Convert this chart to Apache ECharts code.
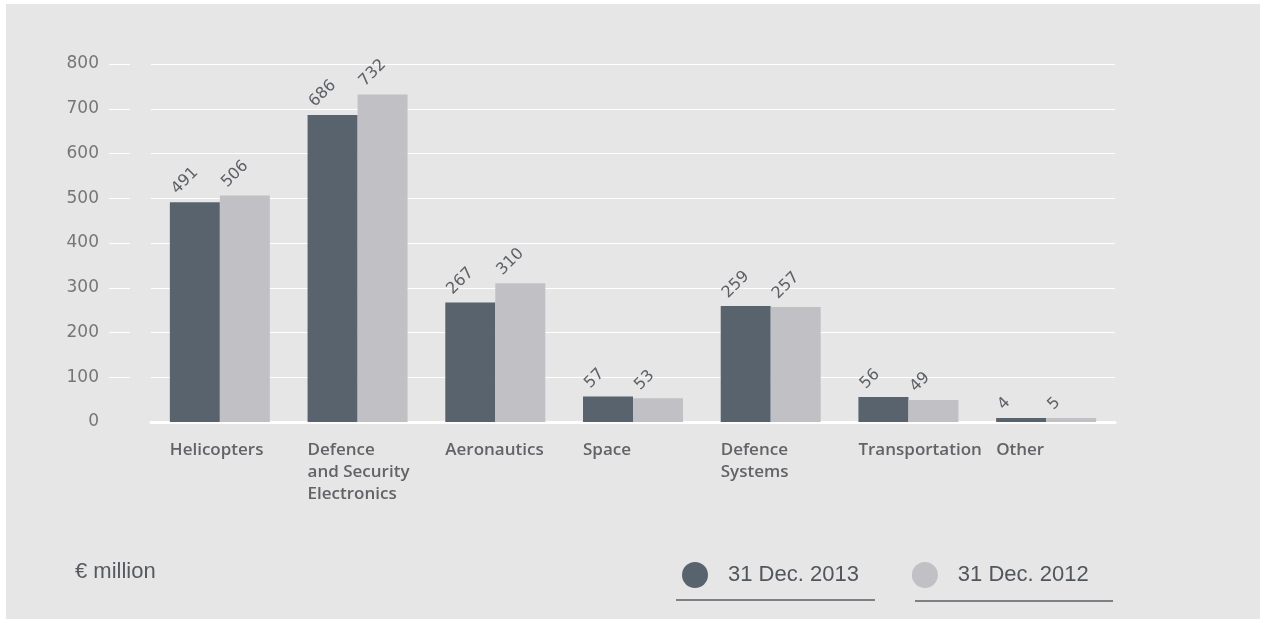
<!DOCTYPE html>
<html>
<head>
<meta charset="utf-8">
<script src="https://cdn.jsdelivr.net/npm/echarts@6/dist/echarts.min.js"></script>
<style>
html,body{margin:0;padding:0;background:#ffffff;width:1265px;height:623px;overflow:hidden;}
#chart{position:absolute;left:6px;top:4px;width:1254px;height:615px;background:#e6e6e6;}
</style>
</head>
<body>
<div id="chart"></div>
<script>
var categories = ['Helicopters', 'Defence\nand Security\nElectronics', 'Aeronautics', 'Space', 'Defence\nSystems', 'Transportation', 'Other'];
var values2013 = [491, 686, 267, 57, 259, 56, 4];
var values2012 = [506, 732, 310, 53, 257, 49, 5];
var seriesNames = ['31 Dec. 2013', '31 Dec. 2012'];
var yTicks = [100, 200, 300, 400, 500, 600, 700, 800];
var unitLabel = '€ million';

var chart = echarts.init(document.getElementById('chart'), null, {renderer: 'canvas'});

var valueLabel = {
  show: true,
  position: [10, -5],
  rotate: 45,
  align: 'left',
  verticalAlign: 'bottom',
  color: '#5c6066',
  fontFamily: 'DejaVu Sans',
  fontSize: 16
};

chart.setOption({
  animation: false,
  backgroundColor: '#e6e6e6',
  title: {
    text: unitLabel,
    left: 69,
    top: 557,
    padding: 0,
    textStyle: {fontFamily: 'Liberation Sans', fontSize: 22, fontWeight: 'normal', color: '#555a60'}
  },
  legend: {
    left: 676,
    top: 558,
    padding: 0,
    icon: 'circle',
    itemWidth: 26,
    itemHeight: 26,
    itemGap: 53,
    data: seriesNames,
    textStyle: {fontFamily: 'Liberation Sans', fontSize: 22, color: '#50565c', padding: [0, 0, 0, 15]}
  },
  graphic: [
    {type: 'line', shape: {x1: 670, y1: 596, x2: 869, y2: 596}, style: {stroke: '#5a5e63', lineWidth: 1.5}},
    {type: 'line', shape: {x1: 909, y1: 597, x2: 1107, y2: 597}, style: {stroke: '#5a5e63', lineWidth: 1.5}}
  ],
  grid: {left: 145, right: 145, top: 60, bottom: 197, containLabel: false},
  xAxis: {
    type: 'category',
    data: categories,
    axisLine: {show: true, lineStyle: {color: '#ffffff', width: 3}},
    axisTick: {show: false},
    axisLabel: {
      interval: 0,
      margin: 17,
      align: 'left',
      padding: [0, 0, 0, -50],
      color: '#626367',
      fontFamily: 'Open Sans',
      fontWeight: 600,
      fontSize: 17,
      lineHeight: 22
    }
  },
  yAxis: {
    type: 'value',
    min: 0,
    max: 800,
    interval: 100,
    offset: 21,
    axisLine: {show: false},
    axisTick: {show: true, length: 21, customValues: yTicks, lineStyle: {color: '#ffffff', width: 1}},
    axisLabel: {
      margin: 31,
      color: '#767676',
      fontFamily: 'DejaVu Sans',
      fontSize: 17,
      verticalAlign: 'middle',
      padding: [0, 0, 11, 0]
    },
    splitLine: {show: true, lineStyle: {color: '#ffffff', width: 1}}
  },
  series: [
    {
      name: seriesNames[0],
      type: 'bar',
      data: values2013,
      barWidth: 50,
      barGap: '0%',
      barMinHeight: 4,
      itemStyle: {color: '#58636e'},
      label: valueLabel
    },
    {
      name: seriesNames[1],
      type: 'bar',
      data: values2012,
      barWidth: 50,
      barGap: '0%',
      barMinHeight: 4,
      itemStyle: {color: '#c1c0c5'},
      label: valueLabel
    }
  ]
});
</script>
</body>
</html>
